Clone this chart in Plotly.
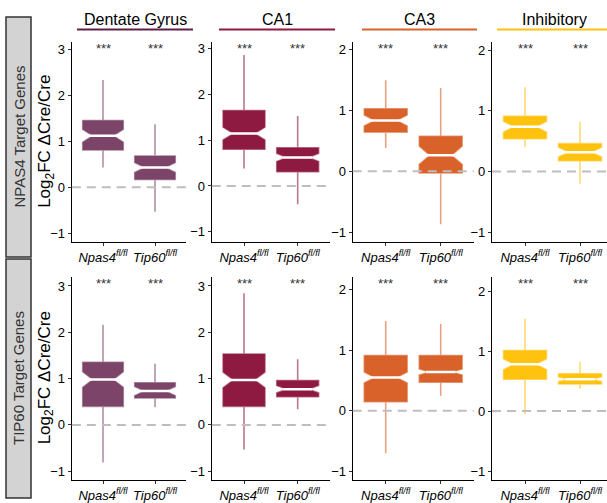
import plotly.graph_objects as go

# ---------------- data ----------------
regions = ["Dentate Gyrus", "CA1", "CA3", "Inhibitory"]
region_colors = ["#7B4468", "#8F1A41", "#D9622B", "#FFC20F"]
region_whisker_colors = ["rgba(123,68,104,0.6)", "rgba(143,26,65,0.6)",
                         "rgba(217,98,43,0.6)", "rgba(255,194,15,0.6)"]
row_labels = ["NPAS4 Target Genes", "TIP60 Target Genes"]
genotypes = ["Npas4", "Tip60"]
tick_labels = ["<i>Npas4<sup>fl/fl</sup></i>", "<i>Tip60<sup>fl/fl</sup></i>"]
significance = ["***", "***"]

# NPAS4 target genes: per region -> [Npas4fl/fl, Tip60fl/fl]
npas4_lower  = [[0.43, -0.53], [0.38, -0.40], [0.38, -0.87], [0.40, -0.20]]
npas4_q1     = [[0.81,  0.17], [0.80,  0.31], [0.64, -0.03], [0.54,  0.18]]
npas4_median = [[1.12,  0.43], [1.14,  0.62], [0.83,  0.26], [0.74,  0.32]]
npas4_q3     = [[1.45,  0.68], [1.64,  0.83], [1.02,  0.57], [0.91,  0.46]]
npas4_upper  = [[2.33,  1.37], [2.85,  1.52], [1.49,  1.36], [1.39,  0.82]]
npas4_notch  = [[0.14,  0.11], [0.14,  0.09], [0.09,  0.15], [0.09,  0.08]]

# TIP60 target genes
tip60_lower  = [[-0.81, 0.38], [-0.53, 0.34], [-0.70, 0.25], [-0.05, 0.37]]
tip60_q1     = [[0.40,  0.58], [0.40,  0.61], [0.15,  0.47], [0.53,  0.45]]
tip60_median = [[0.98,  0.73], [0.97,  0.77], [0.55,  0.64], [0.78,  0.53]]
tip60_q3     = [[1.35,  0.91], [1.53,  0.96], [0.91,  0.91], [1.01,  0.62]]
tip60_upper  = [[2.16,  1.32], [2.84,  1.42], [1.48,  1.43], [1.54,  0.82]]
tip60_notch  = [[0.17,  0.10], [0.17,  0.08], [0.09,  0.05], [0.09,  0.04]]

rows = [
    dict(lower=npas4_lower, q1=npas4_q1, median=npas4_median, q3=npas4_q3,
         upper=npas4_upper, notch=npas4_notch),
    dict(lower=tip60_lower, q1=tip60_q1, median=tip60_median, q3=tip60_q3,
         upper=tip60_upper, notch=tip60_notch),
]

# ---------------- layout geometry ----------------
W, H = 607, 503
FONT = "Liberation Sans, Arial, sans-serif"
x_domains_px = [(71.8, 186.2), (211.8, 329.9), (352.7, 473.7), (492.0, 607.0)]
x_ranges = [[-0.6, 1.6], [-0.6, 1.6], [-0.6, 1.6], [-0.6, 1.49]]
y_domains_px = [(41.7, 242.0), (276.7, 480.0)]
y_ranges = [
    [[-1.19, 3.165], [-1.22, 3.14], [-1.16, 2.12], [-1.16, 2.14]],
    [[-1.19, 3.20], [-1.19, 3.20], [-1.14, 2.21], [-1.15, 2.24]],
]
y_tick_top = [3, 3, 2, 2]
positions = [0, 1]

fig = go.Figure()
layout = dict(
    width=W, height=H,
    margin=dict(l=0, r=0, t=0, b=0),
    paper_bgcolor="white", plot_bgcolor="white",
    showlegend=False,
    font=dict(family=FONT, color="black"),
)
shapes = []
annotations = []

for r in range(2):
    st = rows[r]
    for c in range(4):
        k = r * 4 + c + 1
        sfx = "" if k == 1 else str(k)
        xa, ya = "x" + sfx, "y" + sfx
        fig.add_trace(go.Box(
            x=positions,
            q1=st["q1"][c], median=st["median"][c], q3=st["q3"][c],
            lowerfence=st["lower"][c], upperfence=st["upper"][c],
            notchspan=st["notch"][c],
            notched=True, notchwidth=0.25, width=0.78, whiskerwidth=0,
            fillcolor=region_colors[c],
            line=dict(color=region_whisker_colors[c], width=1.6),
            boxpoints=False, hoverinfo="skip",
            xaxis=xa, yaxis=ya, showlegend=False,
        ))
        mx, my = [], []
        for p, m in zip(positions, st["median"][c]):
            mx += [p - 0.27, p + 0.27, None]
            my += [m, m, None]
        fig.add_trace(go.Scatter(
            x=mx, y=my, mode="lines",
            line=dict(color="white", width=2.5),
            hoverinfo="skip", xaxis=xa, yaxis=ya, showlegend=False,
        ))

        x0, x1 = x_domains_px[c]
        y0, y1 = y_domains_px[r]
        layout["xaxis" + sfx] = dict(
            domain=[x0 / W, x1 / W], range=x_ranges[c], anchor=ya,
            tickmode="array", tickvals=positions, ticktext=tick_labels,
            showline=True, linecolor="black", linewidth=1.2,
            ticks="outside", ticklen=3, tickcolor="#333", tickwidth=1,
            showgrid=False, zeroline=False, fixedrange=True,
            tickfont=dict(family=FONT, size=13, color="black"),
        )
        layout["yaxis" + sfx] = dict(
            domain=[1 - y1 / H, 1 - y0 / H], range=y_ranges[r][c], anchor=xa,
            tickmode="array", tickvals=list(range(-1, y_tick_top[c] + 1)),
            showline=True, linecolor="black", linewidth=1.2,
            ticks="outside", ticklen=3, tickcolor="#333", tickwidth=1,
            showgrid=False, zeroline=False, fixedrange=True,
            tickfont=dict(family=FONT, size=13, color="black"),
        )
        # dashed zero reference line
        shapes.append(dict(
            type="line", xref=xa + " domain", yref=ya,
            x0=0, x1=1, y0=0, y1=0, layer="above",
            line=dict(color="#BEBEBE", width=2, dash="9px,6px"),
        ))
        # significance stars
        for p, s in zip(positions, significance):
            annotations.append(dict(
                x=p, y=0.965, xref=xa, yref=ya + " domain", text=s,
                showarrow=False, xanchor="center", yanchor="middle",
                font=dict(family=FONT, size=13, color="#333333"),
            ))

# column headers with coloured underline
header_lines_px = [(77, 193), (219, 335), (362, 477), (497, 612)]
for c, name in enumerate(regions):
    a, b = header_lines_px[c]
    shapes.append(dict(
        type="line", xref="paper", yref="paper",
        x0=a / W, x1=b / W, y0=1 - 29.5 / H, y1=1 - 29.5 / H,
        line=dict(color=region_colors[c] if c != 0 else "#5E1F4B", width=2),
    ))
    annotations.append(dict(
        x=(a + b) / 2 / W, y=1 - 20 / H, xref="paper", yref="paper",
        text=name, showarrow=False, xanchor="center", yanchor="middle",
        font=dict(family=FONT, size=16, color="black"),
    ))

# row label strips and y-axis titles
strip_px = [(17, 257), (259, 498)]
for r, lab in enumerate(row_labels):
    t, b = strip_px[r]
    shapes.append(dict(
        type="rect", xref="paper", yref="paper",
        x0=6 / W, x1=31 / W, y0=1 - b / H, y1=1 - t / H,
        fillcolor="#D3D3D3", line=dict(color="#333333", width=1.5),
        layer="below",
    ))
    annotations.append(dict(
        x=18.5 / W, y=1 - (t + b) / 2 / H, xref="paper", yref="paper",
        text=lab, textangle=-90, showarrow=False,
        xanchor="center", yanchor="middle",
        font=dict(family=FONT, size=15, color="#333333"),
    ))
    y0, y1 = y_domains_px[r]
    annotations.append(dict(
        x=46 / W, y=1 - (y0 + y1) / 2 / H, xref="paper", yref="paper",
        text="Log<sub>2</sub>FC ΔCre/Cre", textangle=-90, showarrow=False,
        xanchor="center", yanchor="middle",
        font=dict(family=FONT, size=17, color="black"),
    ))

layout["shapes"] = shapes
layout["annotations"] = annotations
fig.update_layout(**layout)
fig.write_html(
    "out.html",
    config={"displayModeBar": False},
    post_script="document.body.style.margin='0px';document.body.style.overflow='hidden';",
)
